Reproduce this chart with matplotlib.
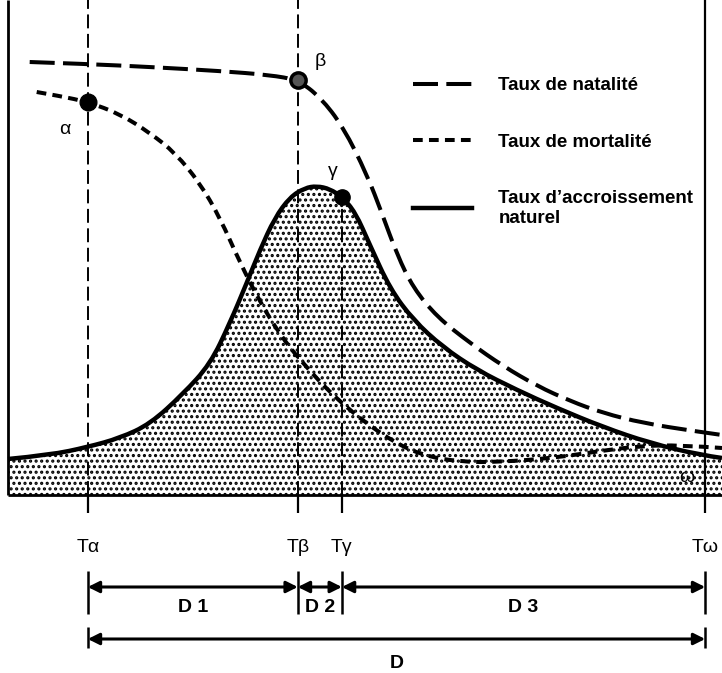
import numpy as np
import matplotlib as mpl
import matplotlib.pyplot as plt
from matplotlib.path import Path
from matplotlib.patches import PathPatch
from matplotlib.lines import Line2D

mpl.rcParams['lines.scale_dashes'] = False
mpl.rcParams['hatch.linewidth'] = 1.5
plt.rcParams['font.family'] = ['Liberation Sans Narrow', 'Liberation Sans', 'DejaVu Sans']

# time (arbitrary units) and rates (per mille)
natal_t = [3.1, 11.4, 20.3, 30.3, 37.4, 41.4, 44.6, 47.9, 51.3, 53.4, 55.6, 57.9,
           61.3, 66.0, 70.7, 75.6, 80.3, 85.0, 90.7, 97.9, 102.0]
natal_r = [43.3, 43.1, 42.8, 42.4, 42.0, 41.5, 39.8, 36.8, 32.0, 28.2, 24.0, 20.7,
           17.8, 15.2, 12.9, 10.9, 9.4, 8.2, 7.2, 6.4, 6.0]

mort_t = [4.1, 7.4, 11.4, 16.0, 20.3, 23.9, 27.4, 30.3, 33.1, 36.0, 38.9, 41.7,
          47.0, 53.6, 58.9, 64.6, 70.3, 77.9, 84.6, 90.3, 96.0, 102.0]
mort_r = [40.3, 39.9, 39.3, 38.1, 36.2, 34.2, 31.2, 27.7, 23.3, 19.3, 16.0, 13.5,
          9.5, 5.9, 4.0, 3.3, 3.3, 3.7, 4.4, 4.9, 5.0, 4.7]

growth_t = [0.0, 6.0, 11.4, 16.0, 20.3, 25.0, 28.9, 31.7, 34.1, 36.0, 38.1, 40.3,
            42.4, 44.1, 46.0, 47.7, 49.6, 51.7, 54.6, 57.9, 62.1, 67.0, 72.7,
            78.4, 85.0, 91.7, 98.9, 102.0]
growth_r = [3.6, 4.0, 4.8, 5.7, 7.1, 10.1, 13.1, 17.2, 21.2, 24.5, 27.7, 29.8,
            30.7, 30.9, 30.6, 29.8, 28.3, 25.0, 20.6, 17.5, 14.8, 12.5, 10.5,
            8.7, 6.8, 5.2, 4.0, 3.7]

# key moments: alpha (mortality starts falling), beta (natality starts falling),
# gamma (growth at maximum), omega (end of transition)
t_alpha, t_beta, t_gamma, t_omega = 11.4, 41.4, 47.7, 99.6
r_alpha, r_beta, r_gamma = 39.3, 41.5, 29.8

tick_names = ['Tα', 'Tβ', 'Tγ', 'Tω']
tick_pos = [t_alpha, t_beta, t_gamma, t_omega]
period_names = ['D 1', 'D 2', 'D 3']
period_bounds = [t_alpha, t_beta, t_gamma, t_omega]
legend_labels = ['Taux de natalité', 'Taux de mortalité',
                 'Taux d’accroissement\nnaturel']


def smooth_verts(t, r):
    # quadratic b-spline: data points are control points
    p = np.column_stack([t, r])
    verts = [p[0]]
    for i in range(1, len(p) - 2):
        verts += [p[i], (p[i] + p[i + 1]) / 2]
    verts += [p[-2], p[-1]]
    return verts


def smooth_path(t, r):
    verts = smooth_verts(t, r)
    return Path(verts, [Path.MOVETO] + [Path.CURVE3] * (len(verts) - 1))


natal_style = dict(color='black', lw=2.9, linestyle=(0, (18, 6)))
mort_style = dict(color='black', lw=2.9, linestyle=(0, (7, 4.5)))
growth_style = dict(color='black', lw=3.2)

top = 49.5
fig = plt.figure(figsize=(7.22, 6.73), dpi=100)
ax = fig.add_axes([0, 0, 1, 1])
ax.set_xlim(-8 / 7, 102)
ax.set_ylim(-17.8, top)
ax.axis('off')

# shaded natural growth
gv = smooth_verts(growth_t, growth_r)
fill_verts = gv + [(growth_t[-1], 0), (growth_t[0], 0), (growth_t[0], 0)]
fill_codes = ([Path.MOVETO] + [Path.CURVE3] * (len(gv) - 1)
              + [Path.LINETO, Path.LINETO, Path.CLOSEPOLY])
ax.add_patch(PathPatch(Path(fill_verts, fill_codes), facecolor='white',
                       edgecolor='black', hatch='...', linewidth=0))

# frame
ax.vlines(0, 0, top, color='black', lw=2)
ax.hlines(0, 0, 102, color='black', lw=2)

# guide lines for the key moments
guide = dict(color='black', lw=1.4, linestyles=(0, (10, 4)))
ax.vlines([t_alpha, t_beta], 0, top, **guide)
ax.vlines(t_gamma, 0, r_gamma, **guide)
ax.vlines(t_omega, -1.8, top, color='black', lw=1.6)
ax.vlines([t_alpha, t_beta, t_gamma], -1.8, 0, color='black', lw=1.6)

# the three curves
ax.add_patch(PathPatch(smooth_path(natal_t, natal_r), fill=False, **natal_style))
ax.add_patch(PathPatch(smooth_path(mort_t, mort_r), fill=False, **mort_style))
ax.add_patch(PathPatch(smooth_path(growth_t, growth_r), fill=False,
                       joinstyle='round', **growth_style))

# key points
ax.plot(t_alpha, r_alpha, 'o', color='black', ms=12)
ax.plot(t_beta, r_beta, 'o', mfc='#555555', mec='black', mew=2.5, ms=11)
ax.plot(t_gamma, r_gamma, 'o', color='black', ms=11)
greek = dict(fontsize=14, ha='center', va='center')
ax.text(t_alpha - 3.3, r_alpha - 2.8, 'α', **greek)
ax.text(t_beta + 3.2, r_beta + 1.8, 'β', **greek)
ax.text(t_gamma - 1.3, r_gamma + 2.5, 'γ', **greek)
ax.text(t_omega - 2.6, 1.7, 'ω', **greek)

# time labels
for name, t in zip(tick_names, tick_pos):
    ax.text(t, -5.2, name, fontsize=14, ha='center', va='center')

# durations
arrow = dict(arrowstyle='<|-|>', mutation_scale=17, lw=2.2, color='black',
             shrinkA=0, shrinkB=0)
for name, a, b in zip(period_names, period_bounds[:-1], period_bounds[1:]):
    ax.annotate('', xy=(b, -9.2), xytext=(a, -9.2), arrowprops=arrow)
    ax.text((a + b) / 2, -11.3, name, fontsize=14, weight='bold',
            ha='center', va='center')
ax.vlines(period_bounds, -11.9, -7.6, color='black', lw=1.8)
ax.annotate('', xy=(t_omega, -14.4), xytext=(t_alpha, -14.4), arrowprops=arrow)
ax.vlines([t_alpha, t_omega], -15.3, -13.2, color='black', lw=1.8)
ax.text((t_alpha + t_omega) / 2, -16.8, 'D', fontsize=14, weight='bold',
        ha='center', va='center')

handles = [Line2D([], [], **natal_style), Line2D([], [], **mort_style),
           Line2D([], [], **growth_style)]
ax.legend(handles, legend_labels,
          loc='upper left', bbox_to_anchor=(413 / 722, 1 - 77 / 673),
          frameon=False, handlelength=3.15, handletextpad=1.4,
          labelspacing=2.1, borderpad=0, borderaxespad=0,
          prop=dict(weight='bold', size=13.5))

fig.savefig('out.png', dpi=100)
plt.close(fig)
